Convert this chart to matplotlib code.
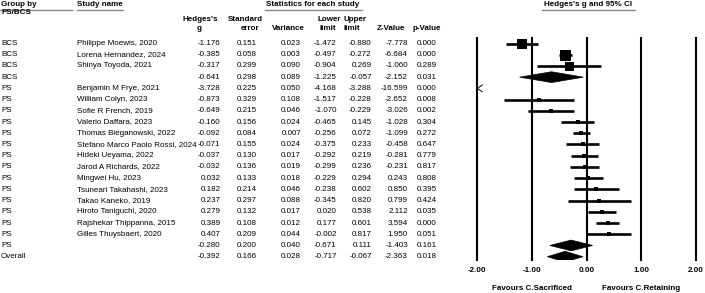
import matplotlib
matplotlib.use("Agg")
import matplotlib.pyplot as plt
from matplotlib.lines import Line2D
from matplotlib.patches import Polygon
from matplotlib.transforms import blended_transform_factory

plt.rcParams['font.family'] = ['Liberation Sans', 'DejaVu Sans']

# ---------------- data ----------------
groups = ['BCS', 'BCS', 'BCS', 'BCS',
          'PS', 'PS', 'PS', 'PS', 'PS', 'PS', 'PS', 'PS', 'PS', 'PS',
          'PS', 'PS', 'PS', 'PS', 'PS', 'Overall']
studies = ['Philippe Moewis, 2020', 'Lorena Hernandez, 2024', 'Shinya Toyoda, 2021', '',
           'Benjamin M Frye, 2021', 'William Colyn, 2023', 'Sofie R French, 2019',
           'Valerio Daffara, 2023', 'Thomas Bieganowski, 2022',
           'Stefano Marco Paolo Rossi, 2024', 'Hideki Ueyama, 2022',
           'Jarod A Richards, 2022', 'Mingwei Hu, 2023', 'Tsuneari Takahashi, 2023',
           'Takao Kaneko, 2019', 'Hiroto Taniguchi, 2020', 'Rajshekar Thippanna, 2015',
           'Gilles Thuysbaert, 2020', '', '']
is_summary = [False, False, False, True,
              False, False, False, False, False, False, False, False, False, False,
              False, False, False, False, True, True]
hedges_g = [-1.176, -0.385, -0.317, -0.641, -3.728, -0.873, -0.649, -0.160, -0.092,
            -0.071, -0.037, -0.032, 0.032, 0.182, 0.237, 0.279, 0.389, 0.407,
            -0.280, -0.392]
std_err = [0.151, 0.058, 0.299, 0.298, 0.225, 0.329, 0.215, 0.156, 0.084, 0.155,
           0.130, 0.136, 0.133, 0.214, 0.297, 0.132, 0.108, 0.209, 0.200, 0.166]
variance = [0.023, 0.003, 0.090, 0.089, 0.050, 0.108, 0.046, 0.024, 0.007, 0.024,
            0.017, 0.019, 0.018, 0.046, 0.088, 0.017, 0.012, 0.044, 0.040, 0.028]
lower = [-1.472, -0.497, -0.904, -1.225, -4.168, -1.517, -1.070, -0.465, -0.256,
         -0.375, -0.292, -0.299, -0.229, -0.238, -0.345, 0.020, 0.177, -0.002,
         -0.671, -0.717]
upper = [-0.880, -0.272, 0.269, -0.057, -3.288, -0.228, -0.229, 0.145, 0.072, 0.233,
         0.219, 0.236, 0.294, 0.602, 0.820, 0.538, 0.601, 0.817, 0.111, -0.067]
z_value = [-7.778, -6.684, -1.060, -2.152, -16.599, -2.652, -3.026, -1.028, -1.099,
           -0.458, -0.281, -0.231, 0.243, 0.850, 0.799, 2.112, 3.594, 1.950,
           -1.403, -2.363]
p_value = [0.000, 0.000, 0.289, 0.031, 0.000, 0.008, 0.002, 0.304, 0.272, 0.647,
           0.779, 0.817, 0.808, 0.395, 0.424, 0.035, 0.000, 0.051, 0.161, 0.018]
# relative box weight
box_weight = [10, 11, 9, 0, 4, 4, 4, 5, 5, 5, 5, 5, 5, 5, 4.5, 5, 5, 5, 0, 0]

x_ticks = [-2.0, -1.0, 0.0, 1.0, 2.0]
x_tick_labels = ['-2.00', '-1.00', '0.00', '1.00', '2.00']
favours_left = 'Favours C.Sacrificed'
favours_right = 'Favours C.Retaining'

# ---------------- layout ----------------
W, H = 705, 293
DPI = 100
fig = plt.figure(figsize=(W / DPI, H / DPI), dpi=DPI)
fs = 5.8

ROW0, ROWH = 43.5, 11.22
ax_left, ax_right = 477.3, 695.7
ax_top, ax_bot = 38, 260
ax = fig.add_axes([ax_left / W, 1 - ax_bot / H, (ax_right - ax_left) / W, (ax_bot - ax_top) / H])
ax.set_xlim(-2, 2)
ax.set_ylim((ax_bot - ROW0) / ROWH, (ax_top - ROW0) / ROWH)
for s in ax.spines.values():
    s.set_visible(False)
ax.set_yticks([])
ax.set_xticks(x_ticks)
ax.set_xticklabels(x_tick_labels, fontsize=fs, fontweight='bold')
ax.tick_params(axis='x', length=0, pad=5)
ax.patch.set_alpha(0)

for t in x_ticks:
    ax.axvline(t, color='black', lw=1.5, zorder=1, clip_on=False)

xmin, xmax = ax.get_xlim()
for i in range(len(hedges_g)):
    g, lo, hi = hedges_g[i], lower[i], upper[i]
    if is_summary[i]:
        h = 0.48
        ax.add_patch(Polygon([(lo, i), (g, i - h), (hi, i), (g, i + h)], closed=True,
                             facecolor='black', edgecolor='black', lw=0.5, zorder=3))
    elif hi < xmin:
        dx = 0.09
        ax.plot([xmin + dx, xmin, xmin + dx], [i - 0.3, i, i + 0.3], color='black', lw=0.7,
                zorder=3, clip_on=False)
    else:
        ax.plot([max(lo, xmin), min(hi, xmax)], [i, i], color='black', lw=1.9,
                solid_capstyle='butt', zorder=2)
        ax.plot([g], [i], marker='s', color='black', markersize=box_weight[i] * 0.72,
                markeredgewidth=0, zorder=3)

# favours labels
ftrans = blended_transform_factory(ax.transData, fig.transFigure)
fig.text(-1, 1 - 288 / H, favours_left, transform=ftrans, ha='center', va='center',
         fontsize=fs, fontweight='bold')
fig.text(1, 1 - 288 / H, favours_right, transform=ftrans, ha='center', va='center',
         fontsize=fs, fontweight='bold')

# ---------------- table ----------------
ttrans = blended_transform_factory(fig.transFigure, ax.transData)
col_right = [220.5, 256.7, 301, 336.7, 371.7, 408, 436.7]
cols = [hedges_g, std_err, variance, lower, upper, z_value, p_value]
for i in range(len(hedges_g)):
    fig.text(1 / W, i, groups[i], transform=ttrans, ha='left', va='center', fontsize=fs)
    if studies[i]:
        fig.text(77 / W, i, studies[i], transform=ttrans, ha='left', va='center', fontsize=fs)
    for xr, col in zip(col_right, cols):
        fig.text(xr / W, i, f"{col[i]:.3f}", transform=ttrans, ha='right', va='center',
                 fontsize=fs)


def ftext(px, py, s, ha='center'):
    fig.text(px / W, 1 - py / H, s, ha=ha, va='center', fontsize=fs, fontweight='bold')


def uline(x0, x1, py):
    fig.add_artist(Line2D([x0 / W, x1 / W], [1 - py / H] * 2, transform=fig.transFigure,
                          color='#8a8a8a', lw=1.0))


ftext(1, 5, 'Group by', ha='left')
ftext(1, 13, 'PS/BCS', ha='left')
uline(0, 72, 10)
ftext(77, 5, 'Study name', ha='left')
uline(77, 123, 10)
ftext(313, 5, 'Statistics for each study')
uline(265, 362, 9.5)
ftext(588.5, 5, "Hedges's g and 95% CI")
uline(542, 635, 9.5)

ftext(200, 19.5, "Hedges's")
ftext(199, 29, 'g')
ftext(245, 19.5, 'Standard')
ftext(250, 29, 'error')
ftext(288, 29, 'Variance')
ftext(329, 19.5, 'Lower')
ftext(327.5, 29, 'limit')
ftext(355, 19.5, 'Upper')
ftext(351.5, 29, 'limit')
ftext(391, 29, 'Z-Value')
ftext(426.5, 29, 'p-Value')

fig.savefig('out.png', dpi=DPI, facecolor='white')
